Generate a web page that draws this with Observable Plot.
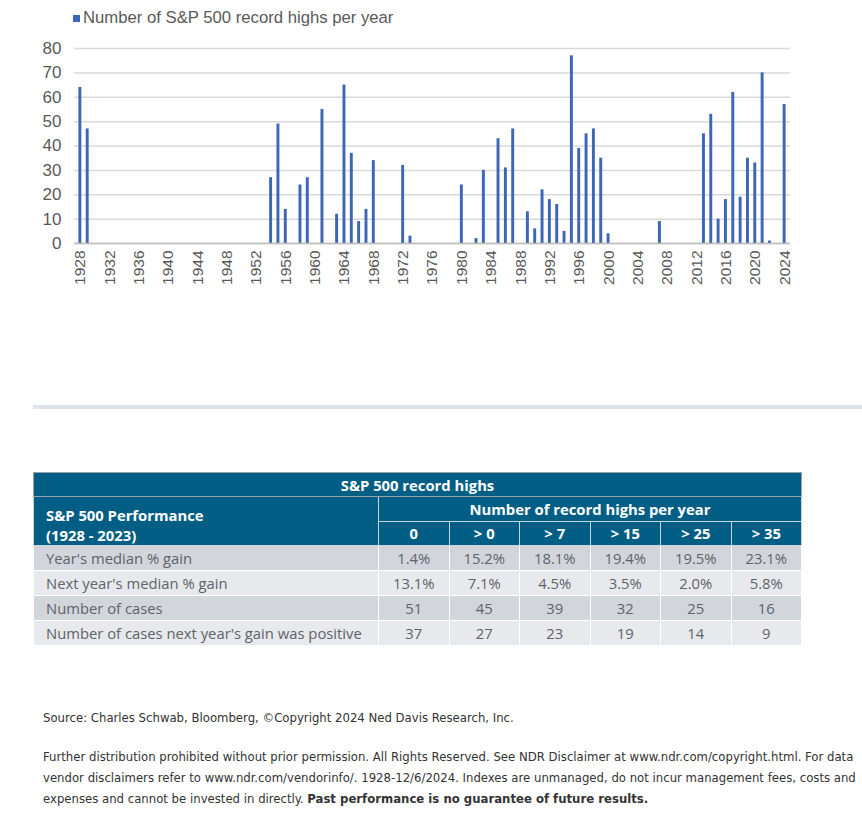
<!DOCTYPE html>
<html>
<head>
<meta charset="utf-8">
<script src="https://cdn.jsdelivr.net/npm/d3@7"></script>
<script src="https://cdn.jsdelivr.net/npm/@observablehq/plot@0.6"></script>
<style>
  body { margin: 0; background: #fff; }
  #wrap { position: relative; width: 862px; height: 831px; overflow: hidden; font-family: "Liberation Sans", Arial, sans-serif; }
  #legend { position: absolute; left: 73px; top: 8px; height: 20px; line-height: 20px; font-size: 16.7px; color: #595959; white-space: nowrap; }
  #legend .sw { display: inline-block; width: 7px; height: 7px; background: #3d66b5; margin-right: 3px; vertical-align: 1px; }
  #chart { position: absolute; left: 0; top: 0; }
  #sep { position: absolute; left: 33px; top: 405px; width: 829px; height: 4px; background: #dfe4ea; }
  #tbl { position: absolute; left: 33px; top: 472px; width: 769px; border-collapse: collapse; font-family: "Open Sans", sans-serif; font-size: 14.8px; table-layout: fixed; }
  #tbl th, #tbl td { padding: 0; border: 1px solid #fff; text-align: center; }
  #tbl th { background: #035e85; color: #fff; font-weight: 700; height: 23px; border-color: #c9d4dd; }
  #tbl th.title { border: 1px solid #9aa3ab; }
  #tbl th.perf { text-align: left; padding-left: 12px; padding-top: 8px; line-height: 20px; }
  #tbl td { height: 24px; color: #5d636a; }
  #tbl td.lab { text-align: left; padding-left: 12px; }
  #tbl tr.odd td { background: #d2d6dc; }
  #tbl tr.even td { background: #e7e9ec; }
  #foot { position: absolute; left: 43px; top: 707px; width: 819px; font-family: "Liberation Sans Narrow", "DejaVu Sans Condensed", sans-serif; font-size: 13px; color: #333; line-height: 21px; }
  #foot div { white-space: nowrap; }
  #foot .gap { height: 18px; }
</style>
</head>
<body>
<div id="wrap">
  <div id="chart"></div>
  <div id="legend"><span class="sw"></span>Number of S&amp;P 500 record highs per year</div>
  <div id="sep"></div>
  <table id="tbl"></table>
  <div id="foot">
    <div>Source: Charles Schwab, Bloomberg, ©Copyright 2024 Ned Davis Research, Inc.</div>
    <div class="gap"></div>
    <div>Further distribution prohibited without prior permission. All Rights Reserved. See NDR Disclaimer at www.ndr.com/copyright.html. For data</div>
    <div>vendor disclaimers refer to www.ndr.com/vendorinfo/. 1928-12/6/2024. Indexes are unmanaged, do not incur management fees, costs and</div>
    <div><span>expenses and cannot be invested in directly.</span> <b>Past performance is no guarantee of future results.</b></div>
  </div>
</div>
<script>
// Years with at least one record high and the count in that year
const recordYears = [1928, 1929, 1954, 1955, 1956, 1958, 1959, 1961, 1963, 1964, 1965, 1966, 1967, 1968, 1972, 1973,
  1980, 1982, 1983, 1985, 1986, 1987, 1989, 1990, 1991, 1992, 1993, 1994, 1995, 1996, 1997, 1998, 1999, 2000,
  2007, 2013, 2014, 2015, 2016, 2017, 2018, 2019, 2020, 2021, 2022, 2024];
const recordCounts = [64, 47, 27, 49, 14, 24, 27, 55, 12, 65, 37, 9, 14, 34, 32, 3,
  24, 2, 30, 43, 31, 47, 13, 6, 22, 18, 16, 5, 77, 39, 45, 47, 35, 4,
  9, 45, 53, 10, 18, 62, 19, 35, 33, 70, 1, 57];
const firstYear = 1928;
const lastYear = 2024;
const xTickYears = [1928, 1932, 1936, 1940, 1944, 1948, 1952, 1956, 1960, 1964, 1968, 1972, 1976, 1980,
  1984, 1988, 1992, 1996, 2000, 2004, 2008, 2012, 2016, 2020, 2024];
const yTicks = [0, 10, 20, 30, 40, 50, 60, 70, 80];

// Table data
const colHeads = ["0", "> 0", "> 7", "> 15", "> 25", "> 35"];
const rowLabels = ["Year's median % gain", "Next year's median % gain", "Number of cases", "Number of cases next year's gain was positive"];
const medianGain = ["1.4%", "15.2%", "18.1%", "19.4%", "19.5%", "23.1%"];
const nextYearGain = ["13.1%", "7.1%", "4.5%", "3.5%", "2.0%", "5.8%"];
const numCases = ["51", "45", "39", "32", "25", "16"];
const numPositive = ["37", "27", "23", "19", "14", "9"];

const data = recordYears.map((y, i) => ({year: y, count: recordCounts[i]}));
const domain = d3.range(firstYear, lastYear + 1);

const plot = Plot.plot({
  width: 862,
  height: 300,
  marginTop: 48,
  marginBottom: 57,
  marginLeft: 74,
  marginRight: 72,
  style: { fontFamily: "Liberation Sans, Arial, sans-serif", fontSize: "15px", color: "#595959", background: "transparent" },
  x: { type: "band", domain, padding: 0.6, align: 0.5, label: null },
  y: { domain: [0, 80], label: null },
  marks: [
    Plot.gridY(yTicks, { stroke: "#d9d9d9", strokeOpacity: 1, strokeWidth: 1.5 }),
    Plot.barY(data, { x: "year", y: "count", fill: "#3d66b5" }),
    Plot.ruleY([0], { stroke: "#bcbcbc", strokeWidth: 1.5 }),
    Plot.axisY(yTicks, { tickSize: 0, tickPadding: 13, fontSize: 17, fill: "#595959" }),
    Plot.axisX(xTickYears, { tickSize: 0, tickPadding: 7, tickRotate: -90, fontSize: 15.5, fill: "#595959", tickFormat: d => String(d) })
  ]
});
document.getElementById("chart").appendChild(plot);

// Build table
const tbl = document.getElementById("tbl");
let html = '<colgroup><col style="width:345px">' + colHeads.map(() => '<col>').join('') + '</colgroup>';
html += '<tr><th class="title" colspan="7">S&amp;P 500 record highs</th></tr>';
html += '<tr><th class="perf" rowspan="2">S&amp;P 500 Performance<br>(1928 - 2023)</th><th colspan="6">Number of record highs per year</th></tr>';
html += '<tr>' + colHeads.map(h => `<th>${h.replace('>', '&gt;')}</th>`).join('') + '</tr>';
const rows = [medianGain, nextYearGain, numCases, numPositive];
rows.forEach((r, i) => {
  html += `<tr class="${i % 2 === 0 ? 'odd' : 'even'}"><td class="lab">${rowLabels[i]}</td>` + r.map(v => `<td>${v}</td>`).join('') + '</tr>';
});
tbl.innerHTML = html;
</script>
</body>
</html>
